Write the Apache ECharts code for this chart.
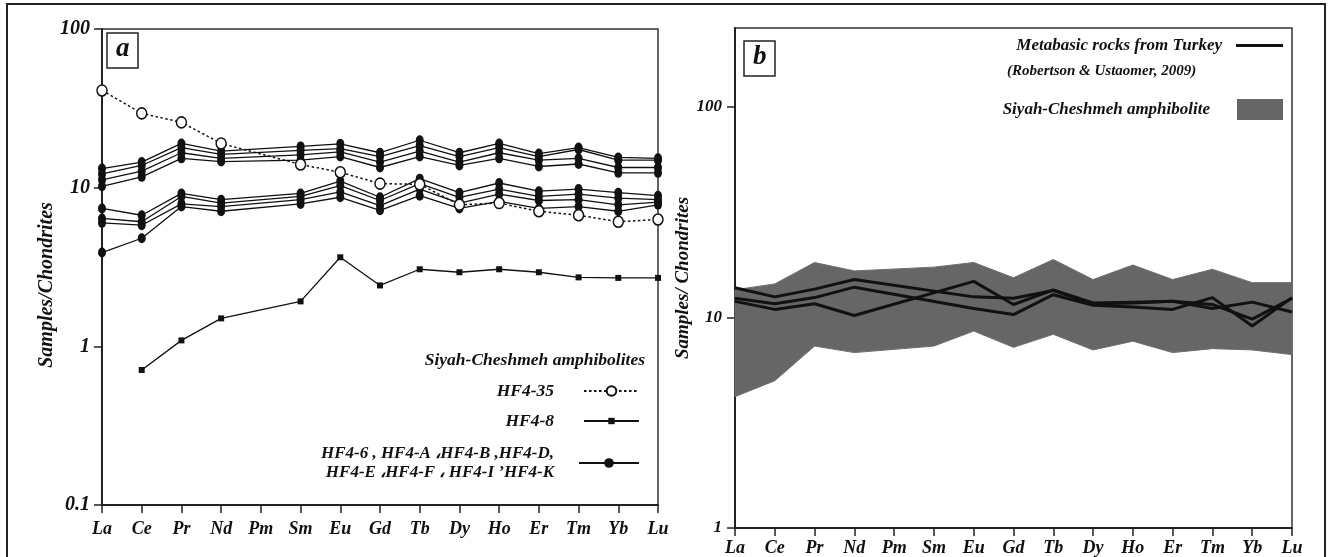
<!DOCTYPE html>
<html><head><meta charset="utf-8">
<script src="https://cdn.jsdelivr.net/npm/echarts@6/dist/echarts.min.js"></script>
<style>html,body{margin:0;padding:0;background:#fff}#c{width:1331px;height:557px}</style>
</head><body><div id="c"></div>
<script>
// ---------- data ----------
const categories = ['La','Ce','Pr','Nd','Pm','Sm','Eu','Gd','Tb','Dy','Ho','Er','Tm','Yb','Lu'];
const yTicksA = [0.1, 1, 10, 100];
const yTicksB = [1, 10, 100];

// Panel a
const hf4_35 = [41, 29.4, 25.8, 19.0, null, 14.0, 12.5, 10.6, 10.5, 7.8, 8.0, 7.1, 6.7, 6.1, 6.3];
const hf4_8  = [null, 0.71, 1.09, 1.50, null, 1.92, 3.64, 2.42, 3.06, 2.93, 3.06, 2.93, 2.72, 2.70, 2.70];
const grpU1 = [13.2, 14.5, 19.0, 17.0, null, 18.2, 18.9, 16.6, 19.9, 16.6, 19.0, 16.4, 17.9, 15.5, 15.3];
const grpU2 = [12.2, 13.8, 17.9, 16.2, null, 17.2, 17.6, 15.7, 18.4, 15.7, 17.9, 15.7, 17.4, 14.9, 14.9];
const grpU3 = [11.2, 12.7, 16.6, 15.3, null, 16.1, 16.8, 14.5, 17.0, 14.5, 16.6, 14.9, 15.3, 13.4, 13.4];
const grpU4 = [10.2, 11.7, 15.3, 14.6, null, 14.9, 15.7, 13.4, 15.7, 13.8, 15.3, 13.6, 14.1, 12.4, 12.4];
const grpL1 = [7.4, 6.7, 9.2, 8.4, null, 9.2, 11.0, 8.7, 11.4, 9.3, 10.7, 9.5, 9.8, 9.3, 8.9];
const grpL2 = [6.4, 6.1, 8.8, 8.0, null, 8.8, 10.3, 8.3, 10.6, 8.7, 9.8, 8.8, 9.1, 8.6, 8.4];
const grpL3 = [6.0, 5.8, 7.9, 7.6, null, 8.4, 9.4, 7.7, 9.8, 8.0, 9.1, 8.3, 8.4, 7.8, 8.1];
const grpL4 = [3.9, 4.8, 7.6, 7.1, null, 7.9, 8.7, 7.2, 8.9, 7.4, 8.2, 7.4, 7.6, 7.1, 7.8];
const groupSeries = [grpU1, grpU2, grpU3, grpU4, grpL1, grpL2, grpL3, grpL4];

// Panel b
const bandUpper = [13.5, 14.4, 18.2, 16.6, null, 17.3, 18.2, 15.4, 18.8, 15.1, 17.7, 15.1, 16.9, 14.6, 14.6];
const bandLower = [4.2, 5.0, 7.3, 6.8, null, 7.3, 8.6, 7.2, 8.3, 7.0, 7.7, 6.8, 7.1, 7.0, 6.65];
const turkey1 = [13.8, 12.5, 13.6, 15.1, null, null, 12.5, 12.3, 13.4, 11.6, 11.7, 11.9, 11.5, 9.8, 12.3];
const turkey2 = [12.3, 11.6, 12.4, 13.9, null, null, 11.0, 10.3, 12.8, 11.4, 11.2, 10.9, 12.4, 9.1, 12.4];
const turkey3 = [11.9, 10.9, 11.6, 10.2, null, null, 14.8, 11.5, 13.5, 11.7, 11.8, 11.9, 11.0, 11.8, 10.6];
const turkeySeries = [turkey1, turkey2, turkey3];

const NAME_35 = 'HF4-35';
const NAME_8 = 'HF4-8';
const NAME_GRP = 'HF4-6 , HF4-A \u060CHF4-B ,HF4-D,\nHF4-E \u060CHF4-F \u060C HF4-I \u2019HF4-K';
const NAME_TR = 'Metabasic rocks from Turkey';
const NAME_SC = 'Siyah-Cheshmeh amphibolite';

// ---------- styling ----------
const FF = '"Liberation Serif", "Times New Roman", serif';
const txt = (size, extra) => Object.assign({fontFamily: FF, fontStyle: 'italic', fontWeight: 'bold', fontSize: size, color: '#111'}, extra || {});
const INK = '#111';

function xAxisCfg(grid, margin) {
  return {
    gridIndex: grid, type: 'category', data: categories, boundaryGap: false,
    axisLine: {show: true, lineStyle: {color: '#222', width: 2}},
    axisTick: {show: true, length: 8, interval: 0, lineStyle: {color: '#222', width: 1.5}},
    axisLabel: Object.assign({interval: 0, margin: margin}, txt(18)),
    splitLine: {show: false}
  };
}
function yAxisCfg(grid, min, max, ticks, size, margin) {
  return {
    gridIndex: grid, type: 'log', logBase: 10, min: min, max: max,
    axisLine: {show: true, lineStyle: {color: '#222', width: 2}},
    axisTick: {show: true, length: 8, customValues: ticks, lineStyle: {color: '#222', width: 1.5}},
    axisLabel: Object.assign({margin: margin, customValues: ticks, formatter: v => String(v)}, txt(size)),
    splitLine: {show: false}, minorTick: {show: false}
  };
}

const series = [];
groupSeries.forEach(arr => series.push({
  name: NAME_GRP, type: 'line', xAxisIndex: 0, yAxisIndex: 0, data: arr, connectNulls: true,
  symbol: 'circle', symbolSize: [8, 10],
  itemStyle: {color: INK}, lineStyle: {color: INK, width: 1.3}, z: 3
}));
series.push({
  name: NAME_8, type: 'line', xAxisIndex: 0, yAxisIndex: 0, data: hf4_8, connectNulls: true,
  symbol: 'rect', symbolSize: 6,
  itemStyle: {color: INK}, lineStyle: {color: INK, width: 1.3}, z: 3
});
series.push({
  name: NAME_35, type: 'line', xAxisIndex: 0, yAxisIndex: 0, data: hf4_35, connectNulls: true,
  symbol: 'circle', symbolSize: [10, 11],
  itemStyle: {color: '#fff', borderColor: INK, borderWidth: 1.5},
  lineStyle: {color: INK, width: 1.5, type: [2.5, 2.5]}, z: 4
});
series.push({
  name: NAME_SC, type: 'custom', xAxisIndex: 1, yAxisIndex: 1, data: [[0, 10]],
  itemStyle: {color: '#666'}, z: 1, silent: true,
  renderItem: (params, api) => {
    const pts = [];
    for (let i = 0; i < categories.length; i++) if (bandUpper[i] != null) pts.push(api.coord([i, bandUpper[i]]));
    for (let i = categories.length - 1; i >= 0; i--) if (bandLower[i] != null) pts.push(api.coord([i, bandLower[i]]));
    return {type: 'polygon', shape: {points: pts}, style: {fill: '#666', stroke: '#6e6e6e', lineWidth: 1}};
  }
});
turkeySeries.forEach(arr => series.push({
  name: NAME_TR, type: 'line', xAxisIndex: 1, yAxisIndex: 1, data: arr, connectNulls: true,
  symbol: 'none', itemStyle: {color: INK}, lineStyle: {color: INK, width: 3}, z: 3
}));

const legendBase = {orient: 'vertical', align: 'right', padding: 0, itemGap: 0, selectedMode: false};
const legends = [
  Object.assign({}, legendBase, {data: [NAME_35], right: 691, top: 382, itemWidth: 55, itemHeight: 12,
    textStyle: txt(17.5, {padding: [0, 25, 0, 0]})}),
  Object.assign({}, legendBase, {data: [NAME_8], right: 691, top: 412, itemWidth: 55, itemHeight: 8,
    textStyle: txt(17.5, {padding: [0, 25, 0, 0]})}),
  Object.assign({}, legendBase, {data: [NAME_GRP], right: 691, top: 444, itemWidth: 60, itemHeight: 12,
    textStyle: txt(17, {lineHeight: 19, padding: [0, 20, 0, 0]})}),
  Object.assign({}, legendBase, {data: [{name: NAME_TR, icon: 'rect', itemStyle: {color: INK}}], right: 48, top: 37, itemWidth: 47, itemHeight: 3,
    textStyle: txt(17, {padding: [0, 9, 0, 0]})}),
  Object.assign({}, legendBase, {data: [{name: NAME_SC, icon: 'rect'}], right: 48, top: 99, itemWidth: 46, itemHeight: 21,
    textStyle: txt(17, {padding: [0, 22, 0, 0]})})
];

const option = {
  animation: false,
  backgroundColor: '#fff',
  grid: [
    {left: 102, top: 29, width: 556, height: 476, show: true, borderColor: '#333', borderWidth: 1.5},
    {left: 735, top: 28, width: 557, height: 503, show: true, borderColor: '#333', borderWidth: 1.5}
  ],
  xAxis: [xAxisCfg(0, 15), xAxisCfg(1, 11)],
  yAxis: [yAxisCfg(0, 0.1, 100, yTicksA, 20, 12), yAxisCfg(1, 1, 236, yTicksB, 17, 13)],
  title: [
    {text: 'a', left: 107, top: 33, padding: [2, 9, 4, 9], borderColor: '#222', borderWidth: 1.5,
      textStyle: txt(27, {lineHeight: 29})},
    {text: 'b', left: 744, top: 41, padding: [2, 9, 4, 9], borderColor: '#222', borderWidth: 1.5,
      textStyle: txt(27, {lineHeight: 29})},
    {text: 'Siyah-Cheshmeh amphibolites', right: 686, top: 351, padding: 0, textStyle: txt(17.5)},
    {text: '(Robertson & Ustaomer, 2009)', left: 1007, top: 64, padding: 0, textStyle: txt(15)}
  ],
  legend: legends,
  graphic: [
    {type: 'rect', shape: {x: 7, y: 4, width: 1318, height: 600}, style: {fill: 'none', stroke: '#222', lineWidth: 2}, silent: true},
    {type: 'text', x: 47, y: 285, rotation: Math.PI / 2,
      style: {text: 'Samples/Chondrites', font: 'italic bold 20px "Liberation Serif"', fill: INK, align: 'center', verticalAlign: 'middle'}},
    {type: 'text', x: 683, y: 278, rotation: Math.PI / 2,
      style: {text: 'Samples/ Chondrites', font: 'italic bold 19px "Liberation Serif"', fill: INK, align: 'center', verticalAlign: 'middle'}}
  ],
  series: series
};
const chart = echarts.init(document.getElementById('c'), null, {renderer: 'canvas'});
chart.setOption(option);
</script></body></html>
